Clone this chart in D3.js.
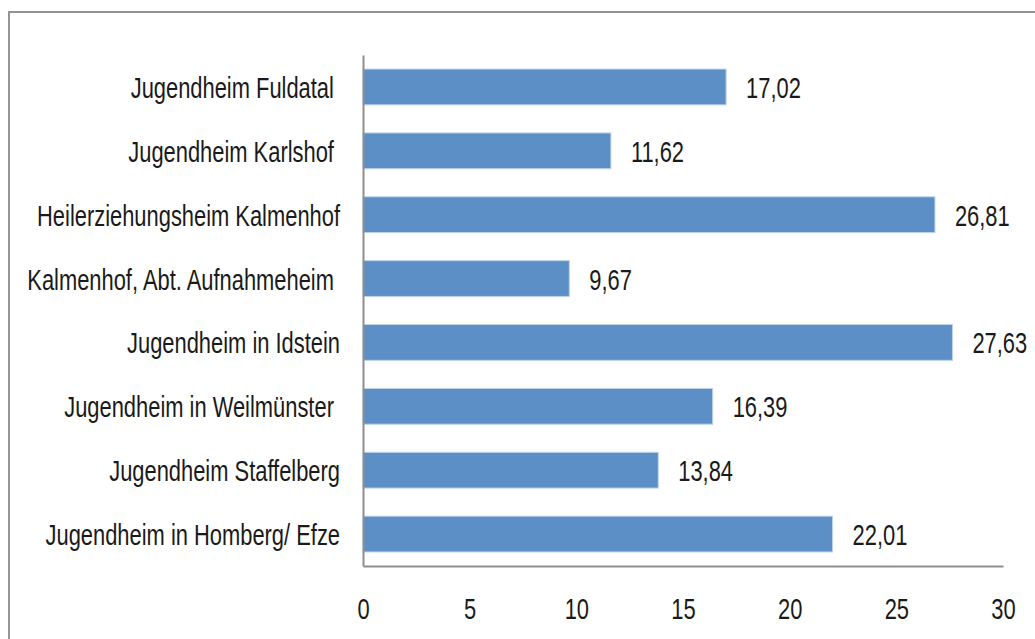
<!DOCTYPE html>
<html>
  <head>
    <title>Jugendheime</title>
    <script src="https://d3js.org/d3.v7.js"></script>
    <style>
      html, body { margin: 0; background: #fff; overflow: hidden; }
      svg { display: block; }
      text { font-family: 'Liberation Sans', Arial, sans-serif; fill: #1a1a1a; white-space: pre; }
    </style>
  </head>
  <body>
    <svg width="1035" height="639"></svg>

    <script>
      const categories = [
        'Jugendheim Fuldatal ',
        'Jugendheim Karlshof ',
        'Heilerziehungsheim Kalmenhof',
        'Kalmenhof, Abt. Aufnahmeheim ',
        'Jugendheim in Idstein',
        'Jugendheim in Weilmünster ',
        'Jugendheim Staffelberg',
        'Jugendheim in Homberg/ Efze',
      ];
      const values = [17.02, 11.62, 26.81, 9.67, 27.63, 16.39, 13.84, 22.01];
      const tickValues = [0, 5, 10, 15, 20, 25, 30];

      (function (d3) {
        'use strict';

        const svg = d3.select('svg');
        const fmt = (v) => d3.format('.2f')(v).replace('.', ',');
        // the source uses a very condensed face, squeeze it horizontally
        const squeeze = 'scale(0.73,1)';

        const margin = { top: 55, left: 363 };
        const innerWidth = 640;
        const innerHeight = 511;

        const data = categories.map((c, i) => ({ name: c, value: values[i] }));

        // outer frame (only top and left edges are in view)
        svg
          .append('rect')
          .attr('x', 9)
          .attr('y', 12)
          .attr('width', 1200)
          .attr('height', 800)
          .attr('fill', 'none')
          .attr('stroke', '#949494')
          .attr('stroke-width', 2);

        const xScale = d3.scaleLinear().domain([0, 30]).range([0, innerWidth]);

        const yScale = d3
          .scaleBand()
          .domain(categories)
          .range([0, innerHeight])
          .paddingInner(0.44)
          .paddingOuter(0.22);

        const g = svg
          .append('g')
          .attr('transform', `translate(${margin.left},${margin.top})`);

        g.selectAll('rect.bar')
          .data(data)
          .enter()
          .append('rect')
          .attr('class', 'bar')
          .attr('x', xScale(0))
          .attr('y', (d) => yScale(d.name))
          .attr('width', (d) => xScale(d.value) - xScale(0))
          .attr('height', yScale.bandwidth())
          .attr('fill', '#5b8fc5')
          .attr('stroke', '#bcd2ea')
          .attr('stroke-width', 1);

        // axes
        const xAxis = d3.axisBottom(xScale).tickValues(tickValues).tickSize(0).tickPadding(0);
        const xAxisG = g
          .append('g')
          .attr('transform', `translate(0,${innerHeight})`)
          .call(xAxis);
        xAxisG.select('.domain').attr('stroke', '#8f8f8f').attr('stroke-width', 2);
        xAxisG
          .selectAll('.tick text')
          .attr('y', 0)
          .attr('dy', 0)
          .attr('transform', 'translate(0,53) ' + squeeze)
          .style('font-size', '30px')
          .style('font-family', null)
          .attr('fill', '#1a1a1a');

        const yAxisG = g.append('g').call(d3.axisLeft(yScale).tickSize(0).tickFormat(() => ''));
        yAxisG.select('.domain').attr('stroke', '#8f8f8f').attr('stroke-width', 2);

        // category labels
        g.selectAll('text.cat')
          .data(data)
          .enter()
          .append('text')
          .attr('class', 'cat')
          .attr(
            'transform',
            (d) => `translate(-23,${yScale(d.name) + yScale.bandwidth() / 2 + 11}) ${squeeze}`,
          )
          .attr('text-anchor', 'end')
          .style('font-size', '30px')
          .text((d) => d.name);

        // value labels
        g.selectAll('text.val')
          .data(data)
          .enter()
          .append('text')
          .attr('class', 'val')
          .attr(
            'transform',
            (d) =>
              `translate(${xScale(d.value) + 20},${yScale(d.name) + yScale.bandwidth() / 2 + 11}) ${squeeze}`,
          )
          .style('font-size', '30px')
          .text((d) => fmt(d.value));
      })(d3);
    </script>
  </body>
</html>
